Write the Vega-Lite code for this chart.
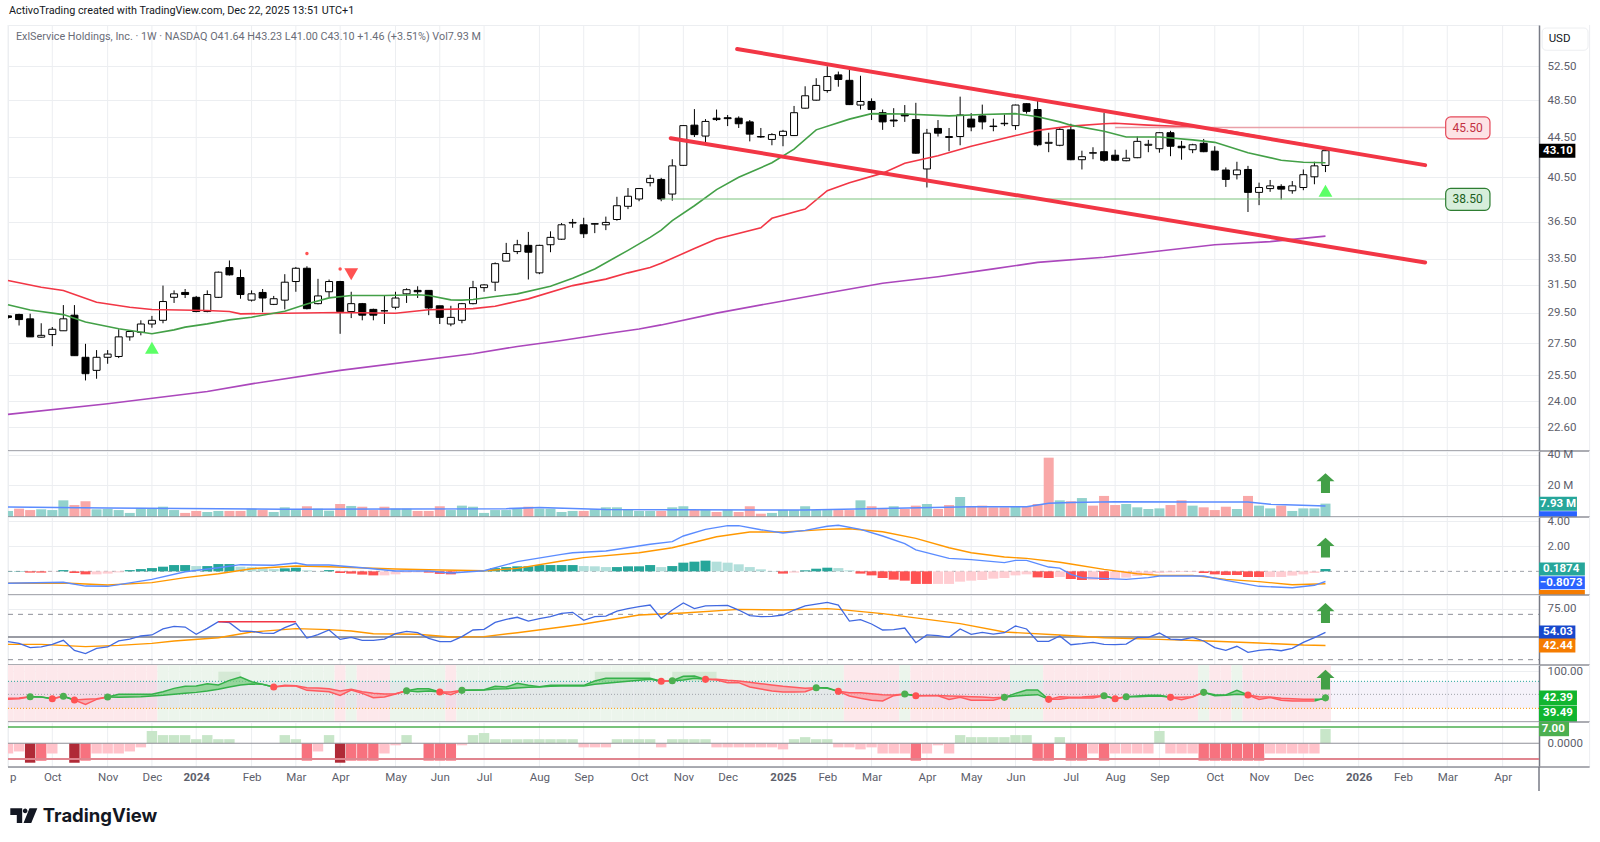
{
"$schema":"https://vega.github.io/schema/vega-lite/v6.json",
"background":"white",
"padding":{"left":4,"top":5,"right":0,"bottom":0},
"autosize":{"type":"pad"},
"title":{"text":"ActivoTrading created with TradingView.com, Dec 22, 2025 13:51 UTC+1","anchor":"start","frame":"group","fontSize":10.8,"font":"Roboto","fontWeight":"normal","color":"#131722","offset":8,"dx":1},
"spacing":0,
"bounds":"flush",
"resolve":{"scale":{"color":"independent"}},
"config":{
"view":{"stroke":"#eceef1"},
"text":{"font":"Roboto"},
"axisY":{"orient":"right","title":null,"ticks":false,"domainColor":"#787b86","domainWidth":1.5,"gridColor":"#eceef1","labelColor":"#5d606b","labelFont":"Roboto","labelFontSize":11.5,"labelPadding":8}
},
"datasets":{
"bars":[
{"date":"2023-09-04","open":29.3,"high":29.35,"low":29.1,"close":29.2,"vol":3.1,"volDir":"up","hist":0.02,"histTone":"strong","rsi":45.9,"sig":-5,"regime":"down"},
{"date":"2023-09-11","open":29.4,"high":29.45,"low":28.65,"close":29.05,"vol":4.6,"volDir":"down","hist":0.03,"histTone":"strong","rsi":44.4,"sig":-4,"regime":"down"},
{"date":"2023-09-18","open":29.1,"high":29.45,"low":27.9,"close":27.9,"vol":3.7,"volDir":"down","hist":-0.1,"histTone":"strong","rsi":40.6,"sig":-9.5,"regime":"down"},
{"date":"2023-09-25","open":27.88,"high":28.8,"low":27.85,"close":28.0,"vol":4.2,"volDir":"up","hist":-0.1,"histTone":"strong","rsi":41.2,"sig":-8.5,"regime":"down"},
{"date":"2023-10-02","open":28.05,"high":28.55,"low":27.3,"close":28.4,"vol":3.7,"volDir":"up","hist":-0.02,"histTone":"fade","rsi":43.5,"sig":-5,"regime":"down"},
{"date":"2023-10-09","open":28.3,"high":30.05,"low":28.3,"close":29.1,"vol":10.1,"volDir":"up","hist":0.1,"histTone":"strong","rsi":47.1,"sig":0,"regime":"down"},
{"date":"2023-10-16","open":29.35,"high":30.05,"low":26.7,"close":26.7,"vol":7.0,"volDir":"down","hist":-0.13,"histTone":"strong","rsi":38.2,"sig":-9.5,"regime":"down"},
{"date":"2023-10-23","open":26.6,"high":27.45,"low":25.2,"close":25.6,"vol":9.5,"volDir":"down","hist":-0.24,"histTone":"strong","rsi":35.3,"sig":-8.5,"regime":"down"},
{"date":"2023-10-30","open":25.8,"high":27.05,"low":25.3,"close":26.6,"vol":4.2,"volDir":"up","hist":-0.24,"histTone":"fade","rsi":40,"sig":-5,"regime":"down"},
{"date":"2023-11-06","open":26.6,"high":27.05,"low":26.2,"close":26.8,"vol":4.4,"volDir":"up","hist":-0.18,"histTone":"fade","rsi":41.2,"sig":-5,"regime":"down"},
{"date":"2023-11-13","open":26.65,"high":28.4,"low":26.55,"close":27.9,"vol":3.7,"volDir":"up","hist":-0.08,"histTone":"fade","rsi":46.5,"sig":-5,"regime":"down"},
{"date":"2023-11-20","open":27.9,"high":28.35,"low":27.65,"close":28.25,"vol":1.8,"volDir":"up","hist":0.1,"histTone":"strong","rsi":48.2,"sig":-4,"regime":"down"},
{"date":"2023-11-27","open":28.2,"high":29.0,"low":28.0,"close":28.75,"vol":5.1,"volDir":"up","hist":0.18,"histTone":"strong","rsi":50.9,"sig":-2,"regime":"down"},
{"date":"2023-12-04","open":28.75,"high":29.3,"low":28.5,"close":29.0,"vol":4.8,"volDir":"up","hist":0.26,"histTone":"strong","rsi":51.8,"sig":6,"regime":"down"},
{"date":"2023-12-11","open":29.0,"high":31.45,"low":28.8,"close":30.3,"vol":5.9,"volDir":"up","hist":0.37,"histTone":"strong","rsi":57.1,"sig":4,"regime":"up"},
{"date":"2023-12-18","open":30.6,"high":31.1,"low":30.2,"close":30.85,"vol":3.7,"volDir":"up","hist":0.5,"histTone":"strong","rsi":59.4,"sig":4,"regime":"up"},
{"date":"2023-12-25","open":30.95,"high":31.2,"low":30.55,"close":30.8,"vol":1.8,"volDir":"down","hist":0.5,"histTone":"strong","rsi":58.8,"sig":4,"regime":"up"},
{"date":"2024-01-01","open":30.6,"high":30.7,"low":29.55,"close":29.6,"vol":3.1,"volDir":"down","hist":0.42,"histTone":"fade","rsi":52.4,"sig":2,"regime":"up"},
{"date":"2024-01-08","open":29.6,"high":31.1,"low":29.55,"close":30.8,"vol":2.4,"volDir":"up","hist":0.42,"histTone":"strong","rsi":57.6,"sig":4,"regime":"up"},
{"date":"2024-01-15","open":30.6,"high":32.5,"low":30.55,"close":32.45,"vol":3.1,"volDir":"up","hist":0.58,"histTone":"strong","rsi":63.5,"sig":2,"regime":"up"},
{"date":"2024-01-22","open":32.8,"high":33.35,"low":32.2,"close":32.25,"vol":3.1,"volDir":"down","hist":0.58,"histTone":"strong","rsi":62.6,"sig":2,"regime":"up"},
{"date":"2024-01-29","open":32.05,"high":32.65,"low":30.5,"close":30.8,"vol":3.1,"volDir":"down","hist":0.37,"histTone":"fade","rsi":55.3,"sig":0,"regime":"up"},
{"date":"2024-02-05","open":30.4,"high":31.1,"low":30.3,"close":30.85,"vol":4.6,"volDir":"up","hist":0.34,"histTone":"fade","rsi":55,"sig":0,"regime":"up"},
{"date":"2024-02-12","open":30.95,"high":31.2,"low":29.55,"close":30.55,"vol":3.7,"volDir":"down","hist":0.24,"histTone":"fade","rsi":53.5,"sig":0,"regime":"up"},
{"date":"2024-02-19","open":30.1,"high":30.7,"low":30.05,"close":30.5,"vol":2.4,"volDir":"up","hist":0.18,"histTone":"fade","rsi":53.2,"sig":0,"regime":"up"},
{"date":"2024-02-26","open":30.4,"high":32.3,"low":29.75,"close":31.7,"vol":5.5,"volDir":"up","hist":0.24,"histTone":"strong","rsi":58.2,"sig":4,"regime":"up"},
{"date":"2024-03-04","open":31.75,"high":32.85,"low":31.0,"close":32.75,"vol":3.7,"volDir":"up","hist":0.29,"histTone":"strong","rsi":62.1,"sig":2,"regime":"up"},
{"date":"2024-03-11","open":32.75,"high":32.9,"low":29.75,"close":29.8,"vol":6.2,"volDir":"down","hist":0.08,"histTone":"fade","rsi":49.1,"sig":-8.5,"regime":"up"},
{"date":"2024-03-18","open":30.15,"high":31.95,"low":30.1,"close":30.7,"vol":4.6,"volDir":"up","hist":0.01,"histTone":"fade","rsi":52.1,"sig":-4,"regime":"up"},
{"date":"2024-03-25","open":31.0,"high":31.9,"low":30.6,"close":31.75,"vol":3.3,"volDir":"up","hist":0.1,"histTone":"strong","rsi":56.2,"sig":4,"regime":"up"},
{"date":"2024-04-01","open":31.75,"high":31.8,"low":28.1,"close":29.6,"vol":7.7,"volDir":"down","hist":-0.13,"histTone":"strong","rsi":47.9,"sig":-9.5,"regime":"down"},
{"date":"2024-04-08","open":29.6,"high":31.0,"low":29.15,"close":30.15,"vol":6.4,"volDir":"up","hist":-0.18,"histTone":"strong","rsi":49.7,"sig":-8.5,"regime":"up"},
{"date":"2024-04-15","open":30.15,"high":30.2,"low":29.0,"close":29.35,"vol":5.9,"volDir":"down","hist":-0.26,"histTone":"strong","rsi":47.1,"sig":-8.5,"regime":"down"},
{"date":"2024-04-22","open":29.75,"high":29.8,"low":29.0,"close":29.35,"vol":3.7,"volDir":"down","hist":-0.32,"histTone":"strong","rsi":47.1,"sig":-8.5,"regime":"down"},
{"date":"2024-04-29","open":29.65,"high":30.7,"low":28.75,"close":29.65,"vol":5.9,"volDir":"down","hist":-0.32,"histTone":"fade","rsi":48.2,"sig":-5,"regime":"down"},
{"date":"2024-05-06","open":29.9,"high":31.0,"low":29.75,"close":30.55,"vol":4.6,"volDir":"up","hist":-0.24,"histTone":"fade","rsi":52.9,"sig":-1,"regime":"up"},
{"date":"2024-05-13","open":30.85,"high":31.25,"low":30.2,"close":31.15,"vol":4.6,"volDir":"up","hist":-0.1,"histTone":"fade","rsi":55,"sig":4,"regime":"up"},
{"date":"2024-05-20","open":31.1,"high":31.4,"low":30.55,"close":31.0,"vol":3.1,"volDir":"down","hist":-0.08,"histTone":"fade","rsi":53.8,"sig":0,"regime":"up"},
{"date":"2024-05-27","open":31.1,"high":31.1,"low":29.35,"close":29.85,"vol":3.1,"volDir":"down","hist":-0.1,"histTone":"strong","rsi":48.8,"sig":-8.5,"regime":"up"},
{"date":"2024-06-03","open":30.0,"high":30.0,"low":28.75,"close":29.2,"vol":6.2,"volDir":"down","hist":-0.2,"histTone":"strong","rsi":45.9,"sig":-8.5,"regime":"up"},
{"date":"2024-06-10","open":28.75,"high":30.0,"low":28.6,"close":29.2,"vol":3.7,"volDir":"up","hist":-0.24,"histTone":"strong","rsi":45.9,"sig":-8.5,"regime":"down"},
{"date":"2024-06-17","open":29.0,"high":30.2,"low":28.8,"close":30.15,"vol":6.6,"volDir":"up","hist":-0.05,"histTone":"fade","rsi":50.3,"sig":-1,"regime":"up"},
{"date":"2024-06-24","open":30.15,"high":31.8,"low":30.1,"close":31.3,"vol":5.9,"volDir":"up","hist":-0.03,"histTone":"fade","rsi":56.2,"sig":4,"regime":"up"},
{"date":"2024-07-01","open":31.3,"high":31.55,"low":31.0,"close":31.5,"vol":1.8,"volDir":"up","hist":0.03,"histTone":"strong","rsi":56.8,"sig":5,"regime":"up"},
{"date":"2024-07-08","open":31.7,"high":33.2,"low":31.05,"close":33.1,"vol":3.7,"volDir":"up","hist":0.26,"histTone":"strong","rsi":62.9,"sig":2,"regime":"up"},
{"date":"2024-07-15","open":33.3,"high":34.75,"low":33.3,"close":33.9,"vol":3.7,"volDir":"up","hist":0.34,"histTone":"strong","rsi":65.6,"sig":2,"regime":"up"},
{"date":"2024-07-22","open":34.05,"high":35.0,"low":33.85,"close":34.6,"vol":4.4,"volDir":"up","hist":0.4,"histTone":"strong","rsi":67.4,"sig":2,"regime":"up"},
{"date":"2024-07-29","open":34.55,"high":35.65,"low":31.9,"close":34.0,"vol":5.9,"volDir":"down","hist":0.4,"histTone":"strong","rsi":64.1,"sig":2,"regime":"up"},
{"date":"2024-08-05","open":32.4,"high":34.6,"low":32.3,"close":34.55,"vol":4.6,"volDir":"up","hist":0.5,"histTone":"strong","rsi":66.2,"sig":2,"regime":"up"},
{"date":"2024-08-12","open":34.6,"high":35.7,"low":34.0,"close":35.2,"vol":4.6,"volDir":"up","hist":0.5,"histTone":"strong","rsi":67.9,"sig":2,"regime":"up"},
{"date":"2024-08-19","open":35.05,"high":36.4,"low":35.0,"close":36.25,"vol":2.4,"volDir":"up","hist":0.5,"histTone":"strong","rsi":70.9,"sig":2,"regime":"up"},
{"date":"2024-08-26","open":36.4,"high":36.75,"low":36.0,"close":36.45,"vol":3.1,"volDir":"up","hist":0.5,"histTone":"strong","rsi":71.8,"sig":2,"regime":"up"},
{"date":"2024-09-02","open":36.25,"high":36.85,"low":35.15,"close":35.5,"vol":3.1,"volDir":"down","hist":0.42,"histTone":"fade","rsi":64.7,"sig":-2,"regime":"up"},
{"date":"2024-09-09","open":36.3,"high":36.4,"low":35.55,"close":36.35,"vol":4.2,"volDir":"up","hist":0.4,"histTone":"fade","rsi":67.9,"sig":-2,"regime":"up"},
{"date":"2024-09-16","open":36.25,"high":36.95,"low":35.8,"close":36.45,"vol":5.5,"volDir":"up","hist":0.34,"histTone":"fade","rsi":68.5,"sig":-2,"regime":"up"},
{"date":"2024-09-23","open":36.7,"high":38.7,"low":36.6,"close":37.9,"vol":5.5,"volDir":"up","hist":0.34,"histTone":"strong","rsi":72.9,"sig":2,"regime":"up"},
{"date":"2024-09-30","open":37.85,"high":39.5,"low":37.6,"close":38.75,"vol":4.2,"volDir":"up","hist":0.4,"histTone":"strong","rsi":75,"sig":2,"regime":"up"},
{"date":"2024-10-07","open":38.5,"high":39.5,"low":38.3,"close":39.45,"vol":3.1,"volDir":"up","hist":0.4,"histTone":"strong","rsi":76.8,"sig":2,"regime":"up"},
{"date":"2024-10-14","open":40.0,"high":40.75,"low":39.65,"close":40.4,"vol":3.1,"volDir":"up","hist":0.5,"histTone":"strong","rsi":78.2,"sig":2,"regime":"up"},
{"date":"2024-10-21","open":40.3,"high":40.45,"low":38.3,"close":38.5,"vol":3.1,"volDir":"down","hist":0.34,"histTone":"fade","rsi":66.5,"sig":-2,"regime":"up"},
{"date":"2024-10-28","open":38.95,"high":42.25,"low":38.35,"close":41.6,"vol":5.5,"volDir":"up","hist":0.42,"histTone":"strong","rsi":73.8,"sig":2,"regime":"up"},
{"date":"2024-11-04","open":41.65,"high":45.75,"low":41.6,"close":45.7,"vol":6.2,"volDir":"up","hist":0.69,"histTone":"strong","rsi":80,"sig":2,"regime":"up"},
{"date":"2024-11-11","open":45.75,"high":47.5,"low":44.5,"close":44.75,"vol":3.7,"volDir":"down","hist":0.77,"histTone":"strong","rsi":75,"sig":2,"regime":"up"},
{"date":"2024-11-18","open":44.6,"high":46.4,"low":43.65,"close":46.15,"vol":3.7,"volDir":"up","hist":0.85,"histTone":"strong","rsi":77.4,"sig":2,"regime":"up"},
{"date":"2024-11-25","open":46.5,"high":47.45,"low":46.2,"close":46.35,"vol":2.4,"volDir":"down","hist":0.77,"histTone":"fade","rsi":77.6,"sig":-2,"regime":"up"},
{"date":"2024-12-02","open":46.55,"high":46.85,"low":45.65,"close":46.45,"vol":3.7,"volDir":"up","hist":0.69,"histTone":"fade","rsi":77.9,"sig":-2,"regime":"up"},
{"date":"2024-12-09","open":46.5,"high":46.7,"low":45.45,"close":45.9,"vol":2.4,"volDir":"down","hist":0.56,"histTone":"fade","rsi":73.8,"sig":-2,"regime":"up"},
{"date":"2024-12-16","open":46.1,"high":46.3,"low":44.05,"close":44.8,"vol":6.2,"volDir":"down","hist":0.34,"histTone":"fade","rsi":68.8,"sig":-2,"regime":"up"},
{"date":"2024-12-23","open":44.55,"high":45.45,"low":44.4,"close":44.5,"vol":1.3,"volDir":"down","hist":0.16,"histTone":"fade","rsi":67.9,"sig":-2,"regime":"up"},
{"date":"2024-12-30","open":44.25,"high":44.9,"low":43.65,"close":44.75,"vol":1.8,"volDir":"up","hist":0.03,"histTone":"fade","rsi":68.2,"sig":-2,"regime":"up"},
{"date":"2025-01-06","open":44.65,"high":45.25,"low":43.55,"close":45.1,"vol":3.7,"volDir":"up","hist":-0.18,"histTone":"strong","rsi":69.4,"sig":-3,"regime":"up"},
{"date":"2025-01-13","open":44.65,"high":47.85,"low":44.6,"close":47.1,"vol":3.7,"volDir":"up","hist":-0.1,"histTone":"fade","rsi":73.8,"sig":2,"regime":"up"},
{"date":"2025-01-20","open":47.6,"high":50.1,"low":47.55,"close":49.0,"vol":6.2,"volDir":"up","hist":0.08,"histTone":"strong","rsi":77.4,"sig":3,"regime":"up"},
{"date":"2025-01-27","open":48.5,"high":51.05,"low":48.45,"close":50.2,"vol":3.7,"volDir":"up","hist":0.21,"histTone":"strong","rsi":79.1,"sig":2,"regime":"up"},
{"date":"2025-02-03","open":49.6,"high":52.5,"low":49.35,"close":51.25,"vol":3.7,"volDir":"up","hist":0.29,"histTone":"strong","rsi":80.6,"sig":2,"regime":"up"},
{"date":"2025-02-10","open":51.45,"high":51.85,"low":50.05,"close":50.9,"vol":3.7,"volDir":"down","hist":0.26,"histTone":"fade","rsi":78.2,"sig":-2,"regime":"up"},
{"date":"2025-02-17","open":50.8,"high":52.1,"low":47.95,"close":48.0,"vol":3.7,"volDir":"down","hist":0.08,"histTone":"fade","rsi":64.1,"sig":-2,"regime":"down"},
{"date":"2025-02-24","open":47.95,"high":51.35,"low":47.45,"close":48.35,"vol":10.1,"volDir":"up","hist":-0.18,"histTone":"strong","rsi":65.3,"sig":-3,"regime":"down"},
{"date":"2025-03-03","open":48.35,"high":48.7,"low":46.3,"close":47.45,"vol":6.2,"volDir":"down","hist":-0.32,"histTone":"strong","rsi":61.5,"sig":-2,"regime":"down"},
{"date":"2025-03-10","open":47.1,"high":47.45,"low":45.25,"close":46.1,"vol":4.4,"volDir":"down","hist":-0.53,"histTone":"strong","rsi":56.2,"sig":-5,"regime":"down"},
{"date":"2025-03-17","open":46.3,"high":47.6,"low":45.55,"close":46.2,"vol":6.2,"volDir":"up","hist":-0.66,"histTone":"strong","rsi":56.5,"sig":-5,"regime":"down"},
{"date":"2025-03-24","open":46.95,"high":47.95,"low":46.1,"close":46.75,"vol":4.4,"volDir":"down","hist":-0.74,"histTone":"strong","rsi":57.9,"sig":-5,"regime":"up"},
{"date":"2025-03-31","open":46.35,"high":48.2,"low":42.8,"close":42.85,"vol":6.6,"volDir":"down","hist":-1.0,"histTone":"strong","rsi":45,"sig":-8.5,"regime":"down"},
{"date":"2025-04-07","open":41.3,"high":45.35,"low":39.55,"close":44.9,"vol":7.7,"volDir":"up","hist":-1.0,"histTone":"strong","rsi":51.8,"sig":-5,"regime":"down"},
{"date":"2025-04-14","open":45.4,"high":46.3,"low":44.55,"close":44.9,"vol":4.4,"volDir":"down","hist":-1.0,"histTone":"fade","rsi":51.2,"sig":-1,"regime":"down"},
{"date":"2025-04-21","open":44.45,"high":45.45,"low":43.05,"close":44.55,"vol":7.0,"volDir":"down","hist":-1.0,"histTone":"fade","rsi":49.7,"sig":-5,"regime":"down"},
{"date":"2025-04-28","open":44.55,"high":48.9,"low":43.65,"close":46.85,"vol":12.3,"volDir":"up","hist":-0.82,"histTone":"fade","rsi":57.1,"sig":4,"regime":"down"},
{"date":"2025-05-05","open":46.4,"high":47.05,"low":45.1,"close":45.55,"vol":6.2,"volDir":"down","hist":-0.74,"histTone":"fade","rsi":52.4,"sig":3,"regime":"down"},
{"date":"2025-05-12","open":46.75,"high":48.0,"low":45.3,"close":46.1,"vol":6.6,"volDir":"down","hist":-0.69,"histTone":"fade","rsi":54.1,"sig":3,"regime":"down"},
{"date":"2025-05-19","open":45.6,"high":46.45,"low":45.1,"close":45.65,"vol":5.5,"volDir":"down","hist":-0.58,"histTone":"fade","rsi":52.6,"sig":3,"regime":"down"},
{"date":"2025-05-26","open":45.9,"high":46.9,"low":45.65,"close":45.95,"vol":5.5,"volDir":"down","hist":-0.53,"histTone":"fade","rsi":53.8,"sig":3,"regime":"down"},
{"date":"2025-06-02","open":45.7,"high":48.0,"low":45.25,"close":47.95,"vol":6.2,"volDir":"up","hist":-0.32,"histTone":"fade","rsi":59.7,"sig":4,"regime":"up"},
{"date":"2025-06-09","open":48.1,"high":48.15,"low":47.0,"close":47.25,"vol":6.2,"volDir":"down","hist":-0.24,"histTone":"fade","rsi":57.1,"sig":4,"regime":"up"},
{"date":"2025-06-16","open":47.45,"high":48.55,"low":43.55,"close":43.7,"vol":7.7,"volDir":"down","hist":-0.48,"histTone":"strong","rsi":46.2,"sig":-8.5,"regime":"up"},
{"date":"2025-06-23","open":43.85,"high":44.95,"low":42.95,"close":43.95,"vol":38.2,"volDir":"down","hist":-0.53,"histTone":"strong","rsi":46.2,"sig":-8.5,"regime":"down"},
{"date":"2025-06-30","open":43.65,"high":45.55,"low":43.55,"close":45.3,"vol":10.1,"volDir":"up","hist":-0.45,"histTone":"fade","rsi":50.9,"sig":3,"regime":"down"},
{"date":"2025-07-07","open":45.25,"high":45.9,"low":42.15,"close":42.2,"vol":9.5,"volDir":"down","hist":-0.61,"histTone":"strong","rsi":43.2,"sig":-8.5,"regime":"down"},
{"date":"2025-07-14","open":42.2,"high":43.1,"low":41.25,"close":42.5,"vol":11.6,"volDir":"up","hist":-0.69,"histTone":"strong","rsi":44.1,"sig":-8.5,"regime":"down"},
{"date":"2025-07-21","open":42.85,"high":43.45,"low":42.25,"close":42.9,"vol":6.6,"volDir":"down","hist":-0.69,"histTone":"fade","rsi":45.3,"sig":-5,"regime":"down"},
{"date":"2025-07-28","open":43.0,"high":47.1,"low":42.0,"close":42.15,"vol":13.0,"volDir":"down","hist":-0.69,"histTone":"strong","rsi":43.5,"sig":-8.5,"regime":"down"},
{"date":"2025-08-04","open":42.65,"high":43.2,"low":42.05,"close":42.15,"vol":7.0,"volDir":"down","hist":-0.58,"histTone":"fade","rsi":43.2,"sig":-5,"regime":"down"},
{"date":"2025-08-11","open":42.1,"high":43.2,"low":42.05,"close":42.35,"vol":7.7,"volDir":"up","hist":-0.5,"histTone":"fade","rsi":43.8,"sig":-5,"regime":"down"},
{"date":"2025-08-18","open":42.4,"high":44.55,"low":42.35,"close":44.05,"vol":5.5,"volDir":"up","hist":-0.37,"histTone":"fade","rsi":49.7,"sig":-5,"regime":"down"},
{"date":"2025-08-25","open":43.65,"high":44.2,"low":42.95,"close":43.75,"vol":4.4,"volDir":"up","hist":-0.24,"histTone":"fade","rsi":49.7,"sig":-5,"regime":"down"},
{"date":"2025-09-01","open":43.3,"high":45.0,"low":42.9,"close":44.95,"vol":4.8,"volDir":"up","hist":-0.13,"histTone":"fade","rsi":53.5,"sig":6,"regime":"down"},
{"date":"2025-09-08","open":44.95,"high":45.15,"low":42.55,"close":43.55,"vol":7.0,"volDir":"down","hist":-0.08,"histTone":"fade","rsi":48.2,"sig":-5,"regime":"down"},
{"date":"2025-09-15","open":43.55,"high":44.1,"low":42.2,"close":43.4,"vol":10.1,"volDir":"down","hist":-0.05,"histTone":"fade","rsi":47.6,"sig":-5,"regime":"down"},
{"date":"2025-09-22","open":43.2,"high":43.8,"low":42.85,"close":43.7,"vol":6.6,"volDir":"up","hist":-0.05,"histTone":"fade","rsi":49.7,"sig":-5,"regime":"down"},
{"date":"2025-09-29","open":43.85,"high":44.3,"low":42.95,"close":43.0,"vol":5.5,"volDir":"down","hist":-0.13,"histTone":"strong","rsi":46.5,"sig":-8.5,"regime":"up"},
{"date":"2025-10-06","open":43.05,"high":43.55,"low":41.15,"close":41.2,"vol":3.7,"volDir":"down","hist":-0.24,"histTone":"strong","rsi":40.6,"sig":-8.5,"regime":"down"},
{"date":"2025-10-13","open":41.2,"high":41.45,"low":39.6,"close":40.3,"vol":5.9,"volDir":"down","hist":-0.29,"histTone":"strong","rsi":38.2,"sig":-8.5,"regime":"down"},
{"date":"2025-10-20","open":40.75,"high":42.0,"low":40.3,"close":41.2,"vol":4.4,"volDir":"up","hist":-0.29,"histTone":"strong","rsi":41.8,"sig":-8.5,"regime":"up"},
{"date":"2025-10-27","open":41.25,"high":41.6,"low":37.35,"close":39.1,"vol":13.0,"volDir":"down","hist":-0.45,"histTone":"strong","rsi":36.5,"sig":-8.5,"regime":"down"},
{"date":"2025-11-03","open":39.1,"high":40.0,"low":37.95,"close":39.55,"vol":6.6,"volDir":"up","hist":-0.45,"histTone":"strong","rsi":38.2,"sig":-8.5,"regime":"down"},
{"date":"2025-11-10","open":39.45,"high":40.25,"low":39.15,"close":39.7,"vol":4.8,"volDir":"up","hist":-0.45,"histTone":"fade","rsi":39.1,"sig":-5,"regime":"down"},
{"date":"2025-11-17","open":39.65,"high":39.85,"low":38.45,"close":39.4,"vol":6.6,"volDir":"down","hist":-0.45,"histTone":"fade","rsi":37.9,"sig":-5,"regime":"down"},
{"date":"2025-11-24","open":39.25,"high":40.15,"low":38.98,"close":39.7,"vol":3.1,"volDir":"up","hist":-0.34,"histTone":"fade","rsi":40,"sig":-5,"regime":"down"},
{"date":"2025-12-01","open":39.55,"high":41.25,"low":39.3,"close":40.75,"vol":4.8,"volDir":"up","hist":-0.24,"histTone":"fade","rsi":45.3,"sig":-5,"regime":"down"},
{"date":"2025-12-08","open":40.55,"high":42.0,"low":39.85,"close":41.6,"vol":4.8,"volDir":"up","hist":-0.13,"histTone":"fade","rsi":49.4,"sig":-5,"regime":"down"},
{"date":"2025-12-15","open":41.64,"high":43.23,"low":41.0,"close":43.1,"vol":7.93,"volDir":"up","hist":0.1874,"histTone":"strong","rsi":54.03,"sig":7,"regime":"down"}
],
"gridDates":[{"date":"2023-09-04"},{"date":"2023-10-02"},{"date":"2023-11-06"},{"date":"2023-12-04"},{"date":"2024-01-01"},{"date":"2024-02-05"},{"date":"2024-03-04"},{"date":"2024-04-01"},{"date":"2024-05-06"},{"date":"2024-06-03"},{"date":"2024-07-01"},{"date":"2024-08-05"},{"date":"2024-09-02"},{"date":"2024-10-07"},{"date":"2024-11-04"},{"date":"2024-12-02"},{"date":"2025-01-06"},{"date":"2025-02-03"},{"date":"2025-03-03"},{"date":"2025-04-07"},{"date":"2025-05-05"},{"date":"2025-06-02"},{"date":"2025-07-07"},{"date":"2025-08-04"},{"date":"2025-09-01"},{"date":"2025-10-06"},{"date":"2025-11-03"},{"date":"2025-12-01"},{"date":"2026-01-05"},{"date":"2026-02-02"},{"date":"2026-03-02"},{"date":"2026-04-06"},{"date":"2026-05-31"}],
"emaGreen":[{"date":"2023-09-04","v":30.08},{"date":"2023-09-18","v":29.71},{"date":"2023-10-09","v":29.39},{"date":"2023-10-23","v":28.88},{"date":"2023-11-13","v":28.43},{"date":"2023-12-04","v":28.1},{"date":"2023-12-18","v":28.36},{"date":"2023-12-25","v":28.54},{"date":"2024-01-08","v":28.76},{"date":"2024-01-22","v":29.03},{"date":"2024-02-05","v":29.21},{"date":"2024-02-26","v":29.62},{"date":"2024-03-11","v":30.13},{"date":"2024-03-25","v":30.56},{"date":"2024-04-08","v":30.73},{"date":"2024-04-29","v":30.73},{"date":"2024-05-20","v":30.78},{"date":"2024-05-27","v":30.73},{"date":"2024-06-10","v":30.42},{"date":"2024-06-17","v":30.4},{"date":"2024-06-24","v":30.44},{"date":"2024-07-08","v":30.66},{"date":"2024-07-22","v":30.85},{"date":"2024-08-12","v":31.4},{"date":"2024-08-26","v":32.0},{"date":"2024-09-09","v":32.7},{"date":"2024-09-30","v":34.15},{"date":"2024-10-14","v":35.2},{"date":"2024-10-21","v":35.8},{"date":"2024-10-28","v":36.6},{"date":"2024-11-11","v":37.9},{"date":"2024-11-25","v":39.35},{"date":"2024-12-09","v":40.5},{"date":"2024-12-30","v":41.9},{"date":"2025-01-13","v":43.25},{"date":"2025-01-27","v":45.25},{"date":"2025-02-17","v":46.4},{"date":"2025-03-03","v":47.0},{"date":"2025-03-24","v":46.95},{"date":"2025-04-21","v":46.75},{"date":"2025-05-12","v":46.9},{"date":"2025-06-02","v":47.0},{"date":"2025-06-16","v":46.65},{"date":"2025-06-30","v":46.1},{"date":"2025-07-07","v":45.75},{"date":"2025-07-28","v":45.1},{"date":"2025-08-11","v":44.5},{"date":"2025-09-01","v":44.5},{"date":"2025-09-22","v":44.2},{"date":"2025-10-06","v":43.95},{"date":"2025-10-27","v":42.9},{"date":"2025-11-17","v":42.15},{"date":"2025-12-01","v":41.95},{"date":"2025-12-15","v":41.9}],
"emaRed":[{"date":"2023-09-04","v":31.82},{"date":"2023-09-25","v":31.33},{"date":"2023-10-09","v":31.09},{"date":"2023-10-30","v":30.25},{"date":"2023-11-20","v":29.9},{"date":"2023-12-04","v":29.74},{"date":"2024-01-08","v":29.67},{"date":"2024-01-22","v":29.6},{"date":"2024-01-29","v":29.44},{"date":"2024-02-26","v":29.48},{"date":"2024-04-01","v":29.53},{"date":"2024-05-06","v":29.48},{"date":"2024-05-27","v":29.72},{"date":"2024-06-24","v":29.8},{"date":"2024-07-08","v":29.97},{"date":"2024-07-22","v":30.32},{"date":"2024-07-29","v":30.49},{"date":"2024-08-26","v":31.45},{"date":"2024-09-16","v":31.93},{"date":"2024-09-30","v":32.4},{"date":"2024-10-14","v":32.8},{"date":"2024-10-21","v":33.13},{"date":"2024-11-11","v":34.3},{"date":"2024-11-25","v":35.07},{"date":"2024-12-23","v":36.0},{"date":"2024-12-30","v":36.8},{"date":"2025-01-20","v":37.6},{"date":"2025-02-03","v":39.25},{"date":"2025-02-17","v":40.0},{"date":"2025-03-10","v":40.9},{"date":"2025-03-24","v":41.85},{"date":"2025-04-14","v":42.6},{"date":"2025-05-05","v":43.55},{"date":"2025-06-02","v":44.65},{"date":"2025-06-16","v":45.2},{"date":"2025-07-07","v":45.65},{"date":"2025-07-28","v":45.9},{"date":"2025-08-04","v":45.95},{"date":"2025-08-25","v":45.75},{"date":"2025-09-22","v":45.55},{"date":"2025-10-13","v":45.2},{"date":"2025-11-17","v":44.15},{"date":"2025-12-15","v":43.4}],
"emaPurple":[{"date":"2023-09-04","v":23.28},{"date":"2023-11-06","v":23.86},{"date":"2024-01-08","v":24.56},{"date":"2024-02-05","v":25.0},{"date":"2024-04-01","v":25.8},{"date":"2024-06-24","v":26.82},{"date":"2024-07-22","v":27.28},{"date":"2024-08-19","v":27.66},{"date":"2024-09-16","v":28.1},{"date":"2024-10-07","v":28.42},{"date":"2024-10-21","v":28.69},{"date":"2024-11-25","v":29.49},{"date":"2024-12-30","v":30.2},{"date":"2025-02-03","v":30.91},{"date":"2025-03-10","v":31.62},{"date":"2025-04-14","v":32.11},{"date":"2025-05-19","v":32.7},{"date":"2025-06-16","v":33.2},{"date":"2025-07-28","v":33.6},{"date":"2025-09-01","v":34.1},{"date":"2025-10-06","v":34.6},{"date":"2025-11-10","v":34.85},{"date":"2025-12-15","v":35.3}],
"volMa":[{"date":"2023-09-04","v":5.7},{"date":"2023-11-06","v":5.05},{"date":"2024-02-26","v":4.2},{"date":"2024-07-15","v":4.6},{"date":"2024-08-05","v":5.3},{"date":"2024-09-16","v":4.0},{"date":"2025-01-20","v":3.7},{"date":"2025-05-05","v":5.9},{"date":"2025-06-09","v":5.9},{"date":"2025-06-23","v":8.1},{"date":"2025-07-07","v":8.6},{"date":"2025-08-04","v":9.2},{"date":"2025-09-29","v":9.0},{"date":"2025-10-27","v":9.0},{"date":"2025-11-10","v":7.5},{"date":"2025-12-15","v":6.4}],
"macdLine":[{"date":"2023-09-04","v":-0.95},{"date":"2023-10-09","v":-0.87},{"date":"2023-10-23","v":-1.17},{"date":"2023-11-06","v":-1.19},{"date":"2023-12-04","v":-0.64},{"date":"2023-12-25","v":-0.03},{"date":"2024-01-15","v":0.29},{"date":"2024-01-29","v":0.53},{"date":"2024-02-19","v":0.48},{"date":"2024-03-04","v":0.66},{"date":"2024-03-11","v":0.5},{"date":"2024-03-25","v":0.5},{"date":"2024-04-15","v":0.29},{"date":"2024-05-06","v":0.03},{"date":"2024-05-27","v":0.03},{"date":"2024-06-10","v":-0.13},{"date":"2024-07-01","v":0.05},{"date":"2024-07-22","v":0.77},{"date":"2024-08-19","v":1.35},{"date":"2024-08-26","v":1.48},{"date":"2024-09-16","v":1.62},{"date":"2024-10-14","v":2.15},{"date":"2024-10-28","v":2.36},{"date":"2024-11-04","v":2.81},{"date":"2024-11-18","v":3.34},{"date":"2024-12-02","v":3.63},{"date":"2024-12-09","v":3.63},{"date":"2024-12-23","v":3.31},{"date":"2025-01-06","v":3.05},{"date":"2025-01-20","v":3.26},{"date":"2025-02-03","v":3.58},{"date":"2025-02-10","v":3.66},{"date":"2025-02-24","v":3.34},{"date":"2025-03-10","v":2.81},{"date":"2025-03-24","v":2.2},{"date":"2025-03-31","v":1.7},{"date":"2025-04-21","v":1.03},{"date":"2025-05-05","v":0.93},{"date":"2025-05-26","v":0.69},{"date":"2025-06-02","v":0.87},{"date":"2025-06-09","v":0.87},{"date":"2025-06-23","v":0.34},{"date":"2025-06-30","v":0.26},{"date":"2025-07-07","v":-0.24},{"date":"2025-07-14","v":-0.5},{"date":"2025-08-11","v":-0.64},{"date":"2025-08-25","v":-0.5},{"date":"2025-09-01","v":-0.37},{"date":"2025-09-29","v":-0.37},{"date":"2025-10-13","v":-0.72},{"date":"2025-11-03","v":-1.19},{"date":"2025-11-24","v":-1.3},{"date":"2025-12-08","v":-1.11},{"date":"2025-12-15","v":-0.8073}],
"macdSignal":[{"date":"2023-09-04","v":-0.95},{"date":"2023-10-09","v":-0.93},{"date":"2023-11-06","v":-1.09},{"date":"2023-12-04","v":-0.9},{"date":"2023-12-25","v":-0.5},{"date":"2024-01-15","v":-0.19},{"date":"2024-02-05","v":0.21},{"date":"2024-03-04","v":0.42},{"date":"2024-03-25","v":0.37},{"date":"2024-05-06","v":0.19},{"date":"2024-05-27","v":0.13},{"date":"2024-07-01","v":0.05},{"date":"2024-07-22","v":0.24},{"date":"2024-08-19","v":0.82},{"date":"2024-09-02","v":1.09},{"date":"2024-10-07","v":1.48},{"date":"2024-10-28","v":1.88},{"date":"2024-11-25","v":2.75},{"date":"2024-12-16","v":3.13},{"date":"2025-01-06","v":3.13},{"date":"2025-02-03","v":3.34},{"date":"2025-02-17","v":3.39},{"date":"2025-03-10","v":3.15},{"date":"2025-03-31","v":2.62},{"date":"2025-04-21","v":1.88},{"date":"2025-05-05","v":1.48},{"date":"2025-05-26","v":1.14},{"date":"2025-06-09","v":1.03},{"date":"2025-06-30","v":0.72},{"date":"2025-07-07","v":0.58},{"date":"2025-07-28","v":0.16},{"date":"2025-08-18","v":-0.19},{"date":"2025-09-01","v":-0.32},{"date":"2025-09-22","v":-0.32},{"date":"2025-10-13","v":-0.64},{"date":"2025-11-03","v":-0.82},{"date":"2025-11-24","v":-1.06},{"date":"2025-12-15","v":-0.98}],
"rsiMa":[{"date":"2023-09-04","v":43.5},{"date":"2023-09-25","v":43.5},{"date":"2023-10-23","v":41.5},{"date":"2023-11-13","v":42.6},{"date":"2023-12-04","v":44.4},{"date":"2023-12-18","v":46.5},{"date":"2024-01-15","v":49.4},{"date":"2024-02-05","v":54.4},{"date":"2024-03-04","v":57.4},{"date":"2024-03-25","v":56.5},{"date":"2024-04-08","v":55.3},{"date":"2024-04-22","v":52.9},{"date":"2024-05-20","v":52.4},{"date":"2024-06-10","v":50},{"date":"2024-07-01","v":50.3},{"date":"2024-07-22","v":53.8},{"date":"2024-08-19","v":58.8},{"date":"2024-09-02","v":61.5},{"date":"2024-10-07","v":69.4},{"date":"2024-11-04","v":71.2},{"date":"2024-12-09","v":74.4},{"date":"2025-01-06","v":73.8},{"date":"2025-02-03","v":75},{"date":"2025-02-10","v":74.4},{"date":"2025-03-10","v":70.6},{"date":"2025-04-28","v":61.8},{"date":"2025-05-26","v":54.4},{"date":"2025-06-30","v":51.8},{"date":"2025-07-28","v":49.4},{"date":"2025-09-01","v":47.9},{"date":"2025-10-06","v":46.2},{"date":"2025-11-03","v":44.7},{"date":"2025-12-01","v":42.9},{"date":"2025-12-15","v":42.44}],
"rsiPeak":[{"date":"2024-01-15","v":63.4},{"date":"2024-03-04","v":63.4}],
"trendLines":[{"line":"upper","date":"2024-12-08","price":54.66},{"line":"upper","date":"2026-02-16","price":41.67},{"line":"lower","date":"2024-10-27","price":44.38},{"line":"lower","date":"2026-02-16","price":33.19}],
"levels":[{"level":"res","date":"2025-08-04","price":45.5},{"level":"res","date":"2026-03-01","price":45.5},{"level":"sup","date":"2024-10-21","price":38.5},{"level":"sup","date":"2026-03-01","price":38.5}],
"levelTags":[{"label":"45.50","price":45.5,"from":"2026-03-01","to":"2026-03-29","top":46.64,"bottom":44.3},{"label":"38.50","price":38.5,"from":"2026-03-01","to":"2026-03-29","top":39.46,"bottom":37.5}],
"stoch":[
{"seg":1,"state":"down","date":"2023-09-04","k":41.3,"s":39.1},{"seg":1,"state":"down","date":"2023-09-11","k":42,"s":40.6},{"seg":1,"state":"down","date":"2023-09-18","k":44.9,"s":44.9},
{"seg":2,"state":"up","date":"2023-09-18","k":44.9,"s":44.9},{"seg":2,"state":"up","date":"2023-09-25","k":44.5,"s":44.2},{"seg":2,"state":"up","date":"2023-10-02","k":40.6,"s":40.6},
{"seg":3,"state":"down","date":"2023-10-02","k":40.6,"s":40.6},{"seg":3,"state":"down","date":"2023-10-09","k":45.7,"s":45.7},
{"seg":4,"state":"up","date":"2023-10-09","k":45.7,"s":45.7},{"seg":4,"state":"up","date":"2023-10-16","k":37.7,"s":37.7},
{"seg":5,"state":"down","date":"2023-10-16","k":37.7,"s":37.7},{"seg":5,"state":"down","date":"2023-10-23","k":28.3,"s":39.1},{"seg":5,"state":"down","date":"2023-10-30","k":39.1,"s":40.6},{"seg":5,"state":"down","date":"2023-11-06","k":44.2,"s":44.2},
{"seg":6,"state":"up","date":"2023-11-06","k":44.2,"s":44.2},{"seg":6,"state":"up","date":"2023-11-13","k":50,"s":43.5},{"seg":6,"state":"up","date":"2023-11-20","k":50,"s":44.2},{"seg":6,"state":"up","date":"2023-11-27","k":50,"s":44.9},{"seg":6,"state":"up","date":"2023-12-04","k":50,"s":46.4},{"seg":6,"state":"up","date":"2023-12-11","k":55.8,"s":47.8},{"seg":6,"state":"up","date":"2023-12-18","k":63,"s":50},{"seg":6,"state":"up","date":"2023-12-25","k":67.4,"s":52.2},{"seg":6,"state":"up","date":"2024-01-01","k":68.1,"s":54.3},{"seg":6,"state":"up","date":"2024-01-08","k":73.2,"s":57.2},{"seg":6,"state":"up","date":"2024-01-15","k":70.3,"s":60.9},{"seg":6,"state":"up","date":"2024-01-22","k":80.4,"s":65.9},{"seg":6,"state":"up","date":"2024-01-29","k":87.7,"s":70.3},{"seg":6,"state":"up","date":"2024-02-05","k":77.5,"s":72.5},{"seg":6,"state":"up","date":"2024-02-12","k":71.7,"s":71.7},{"seg":6,"state":"up","date":"2024-02-19","k":65.9,"s":65.9},
{"seg":7,"state":"down","date":"2024-02-19","k":65.9,"s":65.9},{"seg":7,"state":"down","date":"2024-02-26","k":68.1,"s":69.6},{"seg":7,"state":"down","date":"2024-03-04","k":68.1,"s":68.6},{"seg":7,"state":"down","date":"2024-03-11","k":58.7,"s":64.5},{"seg":7,"state":"down","date":"2024-03-18","k":57.2,"s":63.8},{"seg":7,"state":"down","date":"2024-03-25","k":55.8,"s":62.3},{"seg":7,"state":"down","date":"2024-04-01","k":47.8,"s":57.2},{"seg":7,"state":"down","date":"2024-04-08","k":59.4,"s":60.9},{"seg":7,"state":"down","date":"2024-04-15","k":52.2,"s":55.8},{"seg":7,"state":"down","date":"2024-04-22","k":42.8,"s":52.2},{"seg":7,"state":"down","date":"2024-04-29","k":44.2,"s":50.7},{"seg":7,"state":"down","date":"2024-05-06","k":50.7,"s":51.4},{"seg":7,"state":"down","date":"2024-05-13","k":58,"s":58},
{"seg":8,"state":"up","date":"2024-05-13","k":58,"s":58},{"seg":8,"state":"up","date":"2024-05-20","k":62.3,"s":55.8},{"seg":8,"state":"up","date":"2024-05-27","k":62.3,"s":57.2},{"seg":8,"state":"up","date":"2024-06-03","k":55.1,"s":55.1},
{"seg":9,"state":"down","date":"2024-06-03","k":55.1,"s":55.1},{"seg":9,"state":"down","date":"2024-06-10","k":49.3,"s":55.1},{"seg":9,"state":"down","date":"2024-06-17","k":58.7,"s":58.7},
{"seg":10,"state":"up","date":"2024-06-17","k":58.7,"s":58.7},{"seg":10,"state":"up","date":"2024-06-24","k":59.4,"s":58.7},{"seg":10,"state":"up","date":"2024-07-01","k":60.1,"s":59.4},{"seg":10,"state":"up","date":"2024-07-08","k":67.4,"s":61.6},{"seg":10,"state":"up","date":"2024-07-15","k":65.9,"s":62.3},{"seg":10,"state":"up","date":"2024-07-22","k":73.9,"s":63.8},{"seg":10,"state":"up","date":"2024-07-29","k":69.6,"s":65.2},{"seg":10,"state":"up","date":"2024-08-05","k":66.7,"s":65.9},{"seg":10,"state":"up","date":"2024-08-12","k":69.6,"s":67.4},{"seg":10,"state":"up","date":"2024-08-19","k":69.6,"s":68.1},{"seg":10,"state":"up","date":"2024-08-26","k":69.6,"s":68.1},{"seg":10,"state":"up","date":"2024-09-02","k":69.6,"s":68.1},{"seg":10,"state":"up","date":"2024-09-09","k":79,"s":71.7},{"seg":10,"state":"up","date":"2024-09-16","k":84.8,"s":73.9},{"seg":10,"state":"up","date":"2024-09-23","k":84.8,"s":76.1},{"seg":10,"state":"up","date":"2024-09-30","k":84.8,"s":78.3},{"seg":10,"state":"up","date":"2024-10-07","k":84.8,"s":80.4},{"seg":10,"state":"up","date":"2024-10-14","k":84.8,"s":82.6},{"seg":10,"state":"up","date":"2024-10-21","k":78.3,"s":78.3},
{"seg":11,"state":"down","date":"2024-10-21","k":78.3,"s":78.3},{"seg":11,"state":"down","date":"2024-10-28","k":79.7,"s":79.7},
{"seg":12,"state":"up","date":"2024-10-28","k":79.7,"s":79.7},{"seg":12,"state":"up","date":"2024-11-04","k":89.1,"s":81.2},{"seg":12,"state":"up","date":"2024-11-11","k":89.9,"s":84.8},{"seg":12,"state":"up","date":"2024-11-18","k":82.6,"s":82.6},
{"seg":13,"state":"down","date":"2024-11-18","k":82.6,"s":82.6},{"seg":13,"state":"down","date":"2024-11-25","k":81.2,"s":82.6},{"seg":13,"state":"down","date":"2024-12-02","k":75.4,"s":80.4},{"seg":13,"state":"down","date":"2024-12-09","k":75.4,"s":79},{"seg":13,"state":"down","date":"2024-12-16","k":65.9,"s":76.1},{"seg":13,"state":"down","date":"2024-12-23","k":61.6,"s":73.2},{"seg":13,"state":"down","date":"2024-12-30","k":57.2,"s":70.3},{"seg":13,"state":"down","date":"2025-01-06","k":55.1,"s":67.4},{"seg":13,"state":"down","date":"2025-01-13","k":55.1,"s":65.2},{"seg":13,"state":"down","date":"2025-01-20","k":55.8,"s":63},{"seg":13,"state":"down","date":"2025-01-27","k":64.5,"s":64.5},
{"seg":14,"state":"up","date":"2025-01-27","k":64.5,"s":64.5},{"seg":14,"state":"up","date":"2025-02-03","k":64.5,"s":63},{"seg":14,"state":"up","date":"2025-02-10","k":56.5,"s":56.5},
{"seg":15,"state":"down","date":"2025-02-10","k":56.5,"s":56.5},{"seg":15,"state":"down","date":"2025-02-17","k":46.4,"s":53.6},{"seg":15,"state":"down","date":"2025-02-24","k":41.3,"s":53.6},{"seg":15,"state":"down","date":"2025-03-03","k":37,"s":51.4},{"seg":15,"state":"down","date":"2025-03-10","k":35.5,"s":49.3},{"seg":15,"state":"down","date":"2025-03-17","k":47.1,"s":48.6},{"seg":15,"state":"down","date":"2025-03-24","k":50.7,"s":50.7},
{"seg":16,"state":"up","date":"2025-03-24","k":50.7,"s":50.7},{"seg":16,"state":"up","date":"2025-03-31","k":47.1,"s":47.1},
{"seg":17,"state":"down","date":"2025-03-31","k":47.1,"s":47.1},{"seg":17,"state":"down","date":"2025-04-07","k":47.1,"s":47.6},{"seg":17,"state":"down","date":"2025-04-14","k":47.1,"s":47.6},{"seg":17,"state":"down","date":"2025-04-21","k":39.1,"s":46.4},{"seg":17,"state":"down","date":"2025-04-28","k":43.5,"s":45.7},{"seg":17,"state":"down","date":"2025-05-05","k":37,"s":44.9},{"seg":17,"state":"down","date":"2025-05-12","k":37,"s":44.2},{"seg":17,"state":"down","date":"2025-05-19","k":37,"s":42.8},{"seg":17,"state":"down","date":"2025-05-26","k":43.5,"s":43.5},
{"seg":18,"state":"up","date":"2025-05-26","k":43.5,"s":43.5},{"seg":18,"state":"up","date":"2025-06-02","k":52.2,"s":46.4},{"seg":18,"state":"up","date":"2025-06-09","k":59.4,"s":47.8},{"seg":18,"state":"up","date":"2025-06-16","k":59.4,"s":49.3},{"seg":18,"state":"up","date":"2025-06-23","k":39.1,"s":39.1},
{"seg":19,"state":"down","date":"2025-06-23","k":39.1,"s":39.1},{"seg":19,"state":"down","date":"2025-06-30","k":39.1,"s":44.9},{"seg":19,"state":"down","date":"2025-07-07","k":42.8,"s":43.5},{"seg":19,"state":"down","date":"2025-07-14","k":42,"s":44.2},{"seg":19,"state":"down","date":"2025-07-21","k":42,"s":45.7},{"seg":19,"state":"down","date":"2025-07-28","k":47.1,"s":47.1},
{"seg":20,"state":"up","date":"2025-07-28","k":47.1,"s":47.1},{"seg":20,"state":"up","date":"2025-08-04","k":40.6,"s":40.6},
{"seg":21,"state":"down","date":"2025-08-04","k":40.6,"s":40.6},{"seg":21,"state":"down","date":"2025-08-11","k":44.9,"s":44.9},
{"seg":22,"state":"up","date":"2025-08-11","k":44.9,"s":44.9},{"seg":22,"state":"up","date":"2025-08-18","k":46.4,"s":44.9},{"seg":22,"state":"up","date":"2025-08-25","k":47.8,"s":45.7},{"seg":22,"state":"up","date":"2025-09-01","k":47.8,"s":46.4},{"seg":22,"state":"up","date":"2025-09-08","k":43.5,"s":43.5},
{"seg":23,"state":"down","date":"2025-09-08","k":43.5,"s":43.5},{"seg":23,"state":"down","date":"2025-09-15","k":38.4,"s":43.5},{"seg":23,"state":"down","date":"2025-09-22","k":44.2,"s":44.9},{"seg":23,"state":"down","date":"2025-09-29","k":54.3,"s":54.3},
{"seg":24,"state":"up","date":"2025-09-29","k":54.3,"s":54.3},{"seg":24,"state":"up","date":"2025-10-06","k":49,"s":47},{"seg":24,"state":"up","date":"2025-10-13","k":48.6,"s":47.8},{"seg":24,"state":"up","date":"2025-10-20","k":58.7,"s":50},{"seg":24,"state":"up","date":"2025-10-27","k":48.6,"s":48.6},
{"seg":25,"state":"down","date":"2025-10-27","k":48.6,"s":48.6},{"seg":25,"state":"down","date":"2025-11-03","k":39.1,"s":44.9},{"seg":25,"state":"down","date":"2025-11-10","k":43,"s":44},{"seg":25,"state":"down","date":"2025-11-17","k":37,"s":41.3},{"seg":25,"state":"down","date":"2025-11-24","k":35.5,"s":40.6},{"seg":25,"state":"down","date":"2025-12-01","k":35.5,"s":39.1},{"seg":25,"state":"down","date":"2025-12-08","k":35.5,"s":39.5},
{"seg":26,"state":"up","date":"2025-12-08","k":35.5,"s":39.5},{"seg":26,"state":"up","date":"2025-12-15","k":42.39,"s":39.49}
],
"stochCrosses":[{"date":"2023-09-18","k":44.9,"state":"up"},{"date":"2023-10-02","k":40.6,"state":"down"},{"date":"2023-10-09","k":45.7,"state":"up"},{"date":"2023-10-16","k":37.7,"state":"down"},{"date":"2023-11-06","k":44.2,"state":"up"},{"date":"2024-02-19","k":65.9,"state":"down"},{"date":"2024-05-13","k":58,"state":"up"},{"date":"2024-06-03","k":55.1,"state":"down"},{"date":"2024-06-17","k":58.7,"state":"up"},{"date":"2024-10-21","k":78.3,"state":"down"},{"date":"2024-10-28","k":79.7,"state":"up"},{"date":"2024-11-18","k":82.6,"state":"down"},{"date":"2025-01-27","k":64.5,"state":"up"},{"date":"2025-02-10","k":56.5,"state":"down"},{"date":"2025-03-24","k":50.7,"state":"up"},{"date":"2025-03-31","k":47.1,"state":"down"},{"date":"2025-05-26","k":43.5,"state":"up"},{"date":"2025-06-23","k":39.1,"state":"down"},{"date":"2025-07-28","k":47.1,"state":"up"},{"date":"2025-08-04","k":40.6,"state":"down"},{"date":"2025-08-11","k":44.9,"state":"up"},{"date":"2025-09-08","k":43.5,"state":"down"},{"date":"2025-09-29","k":54.3,"state":"up"},{"date":"2025-10-27","k":48.6,"state":"down"},{"date":"2025-12-15","k":42.39,"state":"up"}],
"stochHigh":[{"from":"2024-01-15","to":"2024-01-29"},{"from":"2024-09-09","to":"2024-10-14"},{"from":"2024-10-28","to":"2024-11-25"}]
},
"vconcat":[
{"width":1531,"height":426,
"encoding":{"x":{"field":"date","type":"temporal","scale":{"type":"utc","padding":0,"domain":[{"year":2023,"month":9,"date":4,"utc":true},{"year":2026,"month":4,"date":29,"utc":true}]},"axis":{"labels":false,"ticks":false,"grid":false,"domain":false,"title":null}}},
"layer":[
{"data":{"name":"gridDates"},"mark":{"type":"rule","color":"#eceef1"}},
{"data":{"name":"bars"},"mark":{"type":"rule","color":"#000","clip":true},"encoding":{"y":{"field":"low","type":"quantitative","scale":{"type":"log","padding":0,"domain":[21.37,57.81],"nice":false},"axis":{"title":null,"values":[22.6,24,25.5,27.5,29.5,31.5,33.5,36.5,40.5,44.5,48.5,52.5],"format":".2f","grid":true}},"y2":{"field":"high"}}},
{"data":{"name":"bars"},"mark":{"type":"bar","width":7,"stroke":"#000","strokeWidth":1,"clip":true},"encoding":{"y":{"field":"open","type":"quantitative"},"y2":{"field":"close"},"fill":{"condition":{"test":"datum.close<datum.open","value":"#000"},"value":"#fff"}}},
{"data":{"name":"emaPurple"},"mark":{"type":"line","color":"#ab47bc","strokeWidth":1.6},"encoding":{"y":{"field":"v","type":"quantitative"}}},
{"data":{"name":"emaRed"},"mark":{"type":"line","color":"#f23645","strokeWidth":1.6},"encoding":{"y":{"field":"v","type":"quantitative"}}},
{"data":{"name":"emaGreen"},"mark":{"type":"line","color":"#43a047","strokeWidth":1.6},"encoding":{"y":{"field":"v","type":"quantitative"}}},
{"data":{"name":"levels"},"transform":[{"filter":"datum.level=='res'"}],"mark":{"type":"line","color":"#e9a0a8","strokeWidth":1.5},"encoding":{"y":{"field":"price","type":"quantitative"}}},
{"data":{"name":"levels"},"transform":[{"filter":"datum.level=='sup'"}],"mark":{"type":"line","color":"#7cc47f","strokeWidth":1.2},"encoding":{"y":{"field":"price","type":"quantitative"}}},
{"data":{"name":"trendLines"},"mark":{"type":"line","color":"#f23645","strokeWidth":4,"strokeCap":"round"},"encoding":{"detail":{"field":"line"},"y":{"field":"price","type":"quantitative"}}},
{"data":{"name":"levelTags"},"mark":{"type":"rect","cornerRadius":5,"strokeWidth":1.2},"encoding":{"x":{"field":"from","type":"temporal"},"x2":{"field":"to"},"y":{"field":"top","type":"quantitative"},"y2":{"field":"bottom"},"fill":{"condition":{"test":"datum.price>40","value":"#fde3e5"},"value":"#d7eedb"},"stroke":{"condition":{"test":"datum.price>40","value":"#e5495a"},"value":"#2e7d32"}}},
{"data":{"name":"levelTags"},"mark":{"type":"text","fontSize":12,"dx":22},"encoding":{"x":{"field":"from","type":"temporal"},"y":{"field":"price","type":"quantitative"},"text":{"field":"label"},"color":{"condition":{"test":"datum.price>40","value":"#c2303f"},"value":"#1b5e20"}}},
{"data":{"values":[{"date":"2023-12-04","price":27.2},{"date":"2025-12-15","price":39.25}]},"mark":{"type":"point","shape":"triangle-up","filled":true,"opacity":1,"size":190,"color":"#5cff66"},"encoding":{"y":{"field":"price","type":"quantitative"}}},
{"data":{"values":[{"date":"2024-04-08","price":32.3}]},"mark":{"type":"point","shape":"triangle-down","filled":true,"opacity":1,"size":190,"color":"#ff5252"},"encoding":{"y":{"field":"price","type":"quantitative"}}},
{"data":{"values":[{"date":"2024-03-11","price":33.9},{"date":"2024-04-01","price":32.7}]},"mark":{"type":"circle","size":12,"opacity":1,"color":"#ff5252"},"encoding":{"y":{"field":"price","type":"quantitative"}}},
{"data":{"values":[{"date":"2023-09-09","text":"ExlService Holdings, Inc. · 1W · NASDAQ   O41.64   H43.23   L41.00   C43.10   +1.46 (+3.51%)   Vol7.93 M","price":56.2}]},"mark":{"type":"text","align":"left","fontSize":10.8,"color":"#6a6d78"},"encoding":{"y":{"field":"price","type":"quantitative"},"text":{"field":"text"}}},
{"data":{"values":[{"date":"2026-05-01","end":"2026-05-30","top":57.4,"bottom":54.5}]},"mark":{"type":"rect","cornerRadius":4,"fill":"#fff","stroke":"#eceef1"},"encoding":{"x2":{"field":"end"},"y":{"field":"top","type":"quantitative"},"y2":{"field":"bottom"}}},
{"data":{"values":[{"date":"2026-05-12","text":"USD","price":55.95}]},"mark":{"type":"text","fontSize":11.5,"color":"#131722"},"encoding":{"y":{"field":"price","type":"quantitative"},"text":{"field":"text"}}},
{"data":{"values":[{"date":"2026-04-29","end":"2026-05-22","price":43.1}]},"mark":{"type":"bar","height":14,"color":"#000"},"encoding":{"x2":{"field":"end"},"y":{"field":"price","type":"quantitative"}}},
{"data":{"values":[{"date":"2026-05-11","price":43.1,"label":"43.10"}]},"mark":{"type":"text","fontSize":11.5,"fontWeight":"bold","color":"#fff"},"encoding":{"y":{"field":"price","type":"quantitative"},"text":{"field":"label"}}},
{"data":{"values":[{"date":"2023-09-04","end":"2026-05-31","price":21.37}]},"mark":{"type":"rule","color":"#8f9199","strokeWidth":1.5},"encoding":{"x2":{"field":"end"},"y":{"field":"price","type":"quantitative"}}}
]},
{"width":1531,"height":66,
"encoding":{"x":{"field":"date","type":"temporal","scale":{"type":"utc","padding":0,"domain":[{"year":2023,"month":9,"date":4,"utc":true},{"year":2026,"month":4,"date":29,"utc":true}]},"axis":{"labels":false,"ticks":false,"grid":false,"domain":false,"title":null}}},
"layer":[
{"data":{"name":"gridDates"},"mark":{"type":"rule","color":"#eceef1"}},
{"data":{"name":"bars"},"mark":{"type":"bar","width":10,"clip":true},"encoding":{"y":{"field":"vol","type":"quantitative","scale":{"padding":0,"domain":[-0.88,42.6],"nice":false},"axis":{"title":null,"values":[20,40],"labelExpr":"datum.value+' M'","grid":true}},"y2":{"datum":-0.88},"fill":{"condition":{"test":"datum.volDir=='up'","value":"#92d2cc"},"value":"#f9a8a8"}}},
{"data":{"name":"volMa"},"mark":{"type":"line","color":"#5b8cff","strokeWidth":1.5},"encoding":{"y":{"field":"v","type":"quantitative"}}},
{"data":{"values":[{"date":"2025-12-15","v":21.5}]},"mark":{"type":"point","filled":true,"opacity":1,"color":"#43a047","size":324,"shape":"M0,-1.1 L1,-0.2 L0.5,-0.2 L0.5,1.1 L-0.5,1.1 L-0.5,-0.2 L-1,-0.2 Z"},"encoding":{"y":{"field":"v","type":"quantitative"}}},
{"data":{"values":[{"date":"2026-04-29","end":"2026-05-23","top":2.9,"bottom":-0.88}]},"mark":{"type":"rect","color":"#2962ff"},"encoding":{"x2":{"field":"end"},"y":{"field":"top","type":"quantitative"},"y2":{"field":"bottom"}}},
{"data":{"values":[{"date":"2026-04-29","end":"2026-05-23","v":7.93}]},"mark":{"type":"bar","height":14,"color":"#26a69a"},"encoding":{"x2":{"field":"end"},"y":{"field":"v","type":"quantitative"}}},
{"data":{"values":[{"date":"2026-05-11","v":7.93,"label":"7.93 M"}]},"mark":{"type":"text","fontSize":11.5,"fontWeight":"bold","color":"#fff"},"encoding":{"y":{"field":"v","type":"quantitative"},"text":{"field":"label"}}},
{"data":{"values":[{"date":"2023-09-04","end":"2026-05-31","v":-0.88}]},"mark":{"type":"rule","color":"#8f9199","strokeWidth":1.5},"encoding":{"x2":{"field":"end"},"y":{"field":"v","type":"quantitative"}}}
]},
{"width":1531,"height":78,
"encoding":{"x":{"field":"date","type":"temporal","scale":{"type":"utc","padding":0,"domain":[{"year":2023,"month":9,"date":4,"utc":true},{"year":2026,"month":4,"date":29,"utc":true}]},"axis":{"labels":false,"ticks":false,"grid":false,"domain":false,"title":null}}},
"layer":[
{"data":{"name":"gridDates"},"mark":{"type":"rule","color":"#eceef1"}},
{"data":{"values":[{"date":"2023-09-04","end":"2026-04-29","v":0}]},"mark":{"type":"rule","color":"#a0a3ab","strokeDash":[4,4]},"encoding":{"x2":{"field":"end"},"y":{"field":"v","type":"quantitative","scale":{"padding":0,"domain":[-1.88,4.32],"nice":false},"axis":{"title":null,"values":[2,4],"format":".2f","grid":true}}}},
{"data":{"name":"bars"},"mark":{"type":"bar","width":10,"clip":true},"encoding":{"y":{"field":"hist","type":"quantitative"},"y2":{"datum":0},"fill":{"condition":[{"test":"datum.hist>=0 && datum.histTone=='strong'","value":"#26a69a"},{"test":"datum.hist>=0","value":"#b2dfdb"},{"test":"datum.histTone=='strong'","value":"#ff5252"}],"value":"#ffcdd2"}}},
{"data":{"name":"macdSignal"},"mark":{"type":"line","color":"#ff9800","strokeWidth":1.4},"encoding":{"y":{"field":"v","type":"quantitative"}}},
{"data":{"name":"macdLine"},"mark":{"type":"line","color":"#5b8cff","strokeWidth":1.4},"encoding":{"y":{"field":"v","type":"quantitative"}}},
{"data":{"values":[{"date":"2025-12-15","v":1.88}]},"mark":{"type":"point","filled":true,"opacity":1,"color":"#43a047","size":324,"shape":"M0,-1.1 L1,-0.2 L0.5,-0.2 L0.5,1.1 L-0.5,1.1 L-0.5,-0.2 L-1,-0.2 Z"},"encoding":{"y":{"field":"v","type":"quantitative"}}},
{"data":{"values":[{"date":"2026-04-29","end":"2026-05-28","top":-1.48,"bottom":-1.88}]},"mark":{"type":"rect","color":"#f57c00"},"encoding":{"x2":{"field":"end"},"y":{"field":"top","type":"quantitative"},"y2":{"field":"bottom"}}},
{"data":{"values":[{"date":"2026-04-29","end":"2026-05-28","v":0.1874,"series":"hist"},{"date":"2026-04-29","end":"2026-05-28","v":-0.9,"series":"macd"}]},"mark":{"type":"bar","height":13},"encoding":{"x2":{"field":"end"},"y":{"field":"v","type":"quantitative"},"color":{"field":"series","type":"nominal","scale":{"domain":["hist","macd"],"range":["#26a69a","#2962ff"]},"legend":null}}},
{"data":{"values":[{"date":"2026-05-13","v":0.1874,"label":"0.1874"},{"date":"2026-05-13","v":-0.9,"label":"−0.8073"}]},"mark":{"type":"text","fontSize":11.5,"fontWeight":"bold","color":"#fff"},"encoding":{"y":{"field":"v","type":"quantitative"},"text":{"field":"label"}}},
{"data":{"values":[{"date":"2023-09-04","end":"2026-05-31","v":-1.88}]},"mark":{"type":"rule","color":"#8f9199","strokeWidth":1.5},"encoding":{"x2":{"field":"end"},"y":{"field":"v","type":"quantitative"}}}
]},
{"width":1531,"height":70,
"encoding":{"x":{"field":"date","type":"temporal","scale":{"type":"utc","padding":0,"domain":[{"year":2023,"month":9,"date":4,"utc":true},{"year":2026,"month":4,"date":29,"utc":true}]},"axis":{"labels":false,"ticks":false,"grid":false,"domain":false,"title":null}}},
"layer":[
{"data":{"name":"gridDates"},"mark":{"type":"rule","color":"#eceef1"}},
{"data":{"values":[{"date":"2023-09-04","end":"2026-04-29","v":70},{"date":"2023-09-04","end":"2026-04-29","v":30}]},"mark":{"type":"rule","color":"#8f9199","strokeDash":[5,5]},"encoding":{"x2":{"field":"end"},"y":{"field":"v","type":"quantitative","scale":{"padding":0,"domain":[25.3,87.06],"nice":false},"axis":{"title":null,"values":[75],"format":".2f","grid":true}}}},
{"data":{"values":[{"date":"2023-09-04","end":"2026-04-29","v":50}]},"mark":{"type":"rule","color":"#787b86","strokeWidth":1.5},"encoding":{"x2":{"field":"end"},"y":{"field":"v","type":"quantitative"}}},
{"data":{"name":"rsiMa"},"mark":{"type":"line","color":"#ff9800","strokeWidth":1.4},"encoding":{"y":{"field":"v","type":"quantitative"}}},
{"data":{"name":"bars"},"mark":{"type":"line","color":"#4169e1","strokeWidth":1.3,"clip":true},"encoding":{"y":{"field":"rsi","type":"quantitative"}}},
{"data":{"name":"rsiPeak"},"mark":{"type":"line","color":"#f23645","strokeWidth":1.6},"encoding":{"y":{"field":"v","type":"quantitative"}}},
{"data":{"values":[{"date":"2025-12-15","v":71.2}]},"mark":{"type":"point","filled":true,"opacity":1,"color":"#43a047","size":324,"shape":"M0,-1.1 L1,-0.2 L0.5,-0.2 L0.5,1.1 L-0.5,1.1 L-0.5,-0.2 L-1,-0.2 Z"},"encoding":{"y":{"field":"v","type":"quantitative"}}},
{"data":{"values":[{"date":"2026-04-29","end":"2026-05-22","v":54.03,"series":"rsi"},{"date":"2026-04-29","end":"2026-05-22","v":42.44,"series":"ma"}]},"mark":{"type":"bar","height":14},"encoding":{"x2":{"field":"end"},"y":{"field":"v","type":"quantitative"},"color":{"field":"series","type":"nominal","scale":{"domain":["rsi","ma"],"range":["#1848cc","#f57c00"]},"legend":null}}},
{"data":{"values":[{"date":"2026-05-11","v":54.03,"label":"54.03"},{"date":"2026-05-11","v":42.44,"label":"42.44"}]},"mark":{"type":"text","fontSize":11.5,"fontWeight":"bold","color":"#fff"},"encoding":{"y":{"field":"v","type":"quantitative"},"text":{"field":"label"}}},
{"data":{"values":[{"date":"2023-09-04","end":"2026-05-31","v":25.3}]},"mark":{"type":"rule","color":"#8f9199","strokeWidth":1.5},"encoding":{"x2":{"field":"end"},"y":{"field":"v","type":"quantitative"}}}
]},
{"width":1531,"height":57,
"encoding":{"x":{"field":"date","type":"temporal","scale":{"type":"utc","padding":0,"domain":[{"year":2023,"month":9,"date":4,"utc":true},{"year":2026,"month":4,"date":29,"utc":true}]},"axis":{"labels":false,"ticks":false,"grid":false,"domain":false,"title":null}}},
"layer":[
{"data":{"name":"gridDates"},"mark":{"type":"rule","color":"#eceef1"}},
{"data":{"name":"bars"},"mark":{"type":"bar","width":11.1,"clip":true},"encoding":{"y":{"datum":113.8,"scale":{"padding":0,"domain":[-10.1,113.8],"nice":false},"axis":{"title":null,"values":[100],"format":".2f","grid":true}},"y2":{"datum":-10.1},"fill":{"condition":{"test":"datum.regime=='up'","value":"#ecf5ec"},"value":"#fde8eb"}}},
{"data":{"name":"stochHigh"},"mark":{"type":"rect","color":"#d5e9d5"},"encoding":{"x":{"field":"from","type":"temporal"},"x2":{"field":"to"},"y":{"datum":99.3},"y2":{"datum":78.3}}},
{"data":{"values":[{"date":"2023-09-04","end":"2026-04-29","top":78.3,"bottom":19.6}]},"mark":{"type":"rect","color":"#7e57c2","opacity":0.08},"encoding":{"x2":{"field":"end"},"y":{"field":"top","type":"quantitative"},"y2":{"field":"bottom"}}},
{"data":{"values":[{"date":"2023-09-04","end":"2026-04-29","v":78.3}]},"mark":{"type":"rule","color":"#26a69a","strokeDash":[1,2]},"encoding":{"x2":{"field":"end"},"y":{"field":"v","type":"quantitative"}}},
{"data":{"values":[{"date":"2023-09-04","end":"2026-04-29","v":50}]},"mark":{"type":"rule","color":"#a0a3ab","strokeDash":[1,2]},"encoding":{"x2":{"field":"end"},"y":{"field":"v","type":"quantitative"}}},
{"data":{"values":[{"date":"2023-09-04","end":"2026-04-29","v":19.6}]},"mark":{"type":"rule","color":"#ff9800","strokeDash":[1,2]},"encoding":{"x2":{"field":"end"},"y":{"field":"v","type":"quantitative"}}},
{"data":{"name":"stoch"},"transform":[{"filter":"datum.state=='up'"}],"mark":{"type":"area","color":"#7ccf83","opacity":0.75},"encoding":{"detail":{"field":"seg"},"y":{"field":"k","type":"quantitative"},"y2":{"field":"s"}}},
{"data":{"name":"stoch"},"transform":[{"filter":"datum.state=='down'"}],"mark":{"type":"area","color":"#f9a0a4","opacity":0.75},"encoding":{"detail":{"field":"seg"},"y":{"field":"k","type":"quantitative"},"y2":{"field":"s"}}},
{"data":{"name":"stoch"},"transform":[{"filter":"datum.state=='up'"}],"mark":{"type":"line","color":"#35b14a","strokeWidth":1.5},"encoding":{"detail":{"field":"seg"},"y":{"field":"k","type":"quantitative"}}},
{"data":{"name":"stoch"},"transform":[{"filter":"datum.state=='up'"}],"mark":{"type":"line","color":"#35b14a","strokeWidth":1.5},"encoding":{"detail":{"field":"seg"},"y":{"field":"s","type":"quantitative"}}},
{"data":{"name":"stoch"},"transform":[{"filter":"datum.state=='down'"}],"mark":{"type":"line","color":"#ff5a5f","strokeWidth":1.5},"encoding":{"detail":{"field":"seg"},"y":{"field":"k","type":"quantitative"}}},
{"data":{"name":"stoch"},"transform":[{"filter":"datum.state=='down'"}],"mark":{"type":"line","color":"#ff5a5f","strokeWidth":1.5},"encoding":{"detail":{"field":"seg"},"y":{"field":"s","type":"quantitative"}}},
{"data":{"name":"stochCrosses"},"mark":{"type":"circle","size":50,"opacity":1},"encoding":{"y":{"field":"k","type":"quantitative"},"fill":{"condition":{"test":"datum.state=='up'","value":"#4caf50"},"value":"#ff5252"}}},
{"data":{"values":[{"date":"2025-12-15","v":81.9}]},"mark":{"type":"point","filled":true,"opacity":1,"color":"#43a047","size":324,"shape":"M0,-1.1 L1,-0.2 L0.5,-0.2 L0.5,1.1 L-0.5,1.1 L-0.5,-0.2 L-1,-0.2 Z"},"encoding":{"y":{"field":"v","type":"quantitative"}}},
{"data":{"values":[{"date":"2026-04-29","end":"2026-05-23","top":-4.3,"bottom":-10.1}]},"mark":{"type":"rect","color":"#11b52f"},"encoding":{"x2":{"field":"end"},"y":{"field":"top","type":"quantitative"},"y2":{"field":"bottom"}}},
{"data":{"values":[{"date":"2026-04-29","end":"2026-05-23","v":42.39},{"date":"2026-04-29","end":"2026-05-23","v":10.1}]},"mark":{"type":"bar","height":14.5,"color":"#11b52f"},"encoding":{"x2":{"field":"end"},"y":{"field":"v","type":"quantitative"}}},
{"data":{"values":[{"date":"2026-05-11","v":42.39,"label":"42.39"},{"date":"2026-05-11","v":10.1,"label":"39.49"}]},"mark":{"type":"text","fontSize":11.5,"fontWeight":"bold","color":"#fff"},"encoding":{"y":{"field":"v","type":"quantitative"},"text":{"field":"label"}}},
{"data":{"values":[{"date":"2023-09-04","end":"2026-05-31","v":-10.1}]},"mark":{"type":"rule","color":"#8f9199","strokeWidth":1.5},"encoding":{"x2":{"field":"end"},"y":{"field":"v","type":"quantitative"}}}
]},
{"width":1531,"height":45,
"encoding":{"x":{"field":"date","type":"temporal","scale":{"type":"utc","padding":0,"domain":[{"year":2023,"month":9,"date":4,"utc":true},{"year":2026,"month":4,"date":29,"utc":true}]},"axis":{"title":null,"ticks":false,"grid":false,"domain":false,"labelPadding":4,"labelColor":"#5d606b","labelFont":"Roboto","labelFontSize":11.5,"labelOverlap":false,"labelFlush":false,"labelBound":false,"labelExpr":"utcyear(datum.value)==2023 && utcmonth(datum.value)==8 ? 'p' : utcmonth(datum.value)==0 ? utcFormat(datum.value,'%Y') : utcFormat(datum.value,'%b')","labelFontWeight":{"condition":{"test":"utcmonth(datum.value)==0","value":"bold"},"value":"normal"},"values":[{"year":2023,"month":9,"date":7,"utc":true},{"year":2023,"month":10,"date":2,"utc":true},{"year":2023,"month":11,"date":6,"utc":true},{"year":2023,"month":12,"date":4,"utc":true},{"year":2024,"month":1,"date":1,"utc":true},{"year":2024,"month":2,"date":5,"utc":true},{"year":2024,"month":3,"date":4,"utc":true},{"year":2024,"month":4,"date":1,"utc":true},{"year":2024,"month":5,"date":6,"utc":true},{"year":2024,"month":6,"date":3,"utc":true},{"year":2024,"month":7,"date":1,"utc":true},{"year":2024,"month":8,"date":5,"utc":true},{"year":2024,"month":9,"date":2,"utc":true},{"year":2024,"month":10,"date":7,"utc":true},{"year":2024,"month":11,"date":4,"utc":true},{"year":2024,"month":12,"date":2,"utc":true},{"year":2025,"month":1,"date":6,"utc":true},{"year":2025,"month":2,"date":3,"utc":true},{"year":2025,"month":3,"date":3,"utc":true},{"year":2025,"month":4,"date":7,"utc":true},{"year":2025,"month":5,"date":5,"utc":true},{"year":2025,"month":6,"date":2,"utc":true},{"year":2025,"month":7,"date":7,"utc":true},{"year":2025,"month":8,"date":4,"utc":true},{"year":2025,"month":9,"date":1,"utc":true},{"year":2025,"month":10,"date":6,"utc":true},{"year":2025,"month":11,"date":3,"utc":true},{"year":2025,"month":12,"date":1,"utc":true},{"year":2026,"month":1,"date":5,"utc":true},{"year":2026,"month":2,"date":2,"utc":true},{"year":2026,"month":3,"date":2,"utc":true},{"year":2026,"month":4,"date":6,"utc":true}]}}},
"layer":[
{"data":{"name":"gridDates"},"mark":{"type":"rule","color":"#eceef1"}},
{"data":{"name":"bars"},"mark":{"type":"bar","width":10.4,"clip":true},"encoding":{"y":{"field":"sig","type":"quantitative","scale":{"padding":0,"domain":[-11.6,10.4],"nice":false},"axis":{"title":null,"values":[0],"format":".4f","grid":false}},"y2":{"datum":0},"fill":{"condition":[{"test":"datum.sig<=-9","value":"#b02a37"},{"test":"datum.sig<=-8","value":"#f7727f"},{"test":"datum.sig<0","value":"#ffc2ca"}],"value":"#c8e6c9"}}},
{"data":{"values":[{"date":"2023-09-04","end":"2026-04-29","v":8}]},"mark":{"type":"rule","color":"#4caf50","strokeWidth":1.5},"encoding":{"x2":{"field":"end"},"y":{"field":"v","type":"quantitative"}}},
{"data":{"values":[{"date":"2023-09-04","end":"2026-04-29","v":0}]},"mark":{"type":"rule","color":"#8f9199","strokeWidth":1.2},"encoding":{"x2":{"field":"end"},"y":{"field":"v","type":"quantitative"}}},
{"data":{"values":[{"date":"2023-09-04","end":"2026-04-29","v":-7.65}]},"mark":{"type":"rule","color":"#e0858f","strokeWidth":2},"encoding":{"x2":{"field":"end"},"y":{"field":"v","type":"quantitative"}}},
{"data":{"values":[{"date":"2026-04-29","end":"2026-05-18","v":7}]},"mark":{"type":"bar","height":14.5,"color":"#4caf50"},"encoding":{"x2":{"field":"end"},"y":{"field":"v","type":"quantitative"}}},
{"data":{"values":[{"date":"2026-05-08","v":7,"label":"7.00"}]},"mark":{"type":"text","fontSize":11.5,"fontWeight":"bold","color":"#fff"},"encoding":{"y":{"field":"v","type":"quantitative"},"text":{"field":"label"}}},
{"data":{"values":[{"date":"2023-09-04","end":"2026-05-31","v":-11.6}]},"mark":{"type":"rule","color":"#8f9199","strokeWidth":1.5},"encoding":{"x2":{"field":"end"},"y":{"field":"v","type":"quantitative"}}}
]},
{"width":1531,"height":76,"view":{"stroke":null},
"encoding":{"x":{"field":"date","type":"temporal","scale":{"type":"utc","padding":0,"domain":[{"year":2023,"month":9,"date":4,"utc":true},{"year":2026,"month":4,"date":29,"utc":true}]},"axis":null}},
"layer":[
{"data":{"values":[{"date":"2026-04-29","top":1,"bottom":0.684}]},"mark":{"type":"rule","color":"#787b86","strokeWidth":1.5},"encoding":{"y":{"field":"top","type":"quantitative","scale":{"domain":[0,1],"nice":false},"axis":null},"y2":{"field":"bottom"}}},
{"data":{"values":[{"date":"2023-09-14","pos":0.36}]},"mark":{"type":"point","filled":true,"opacity":1,"color":"#131722","size":730,"shape":"M-1,-0.55 H-0.12 V0.55 H-0.52 V-0.05 H-1 Z M-0.07,-0.35 A0.17,0.17 0 1 0 0.27,-0.35 A0.17,0.17 0 1 0 -0.07,-0.35 Z M0.42,-0.55 H1 L0.55,0.55 H-0.02 Z"},"encoding":{"y":{"field":"pos","type":"quantitative"}}},
{"data":{"values":[{"date":"2023-09-26","pos":0.36,"label":"TradingView"}]},"mark":{"type":"text","align":"left","font":"Inter","fontSize":18.5,"fontWeight":"bold","color":"#131722"},"encoding":{"y":{"field":"pos","type":"quantitative"},"text":{"field":"label"}}}
]}
]
}
